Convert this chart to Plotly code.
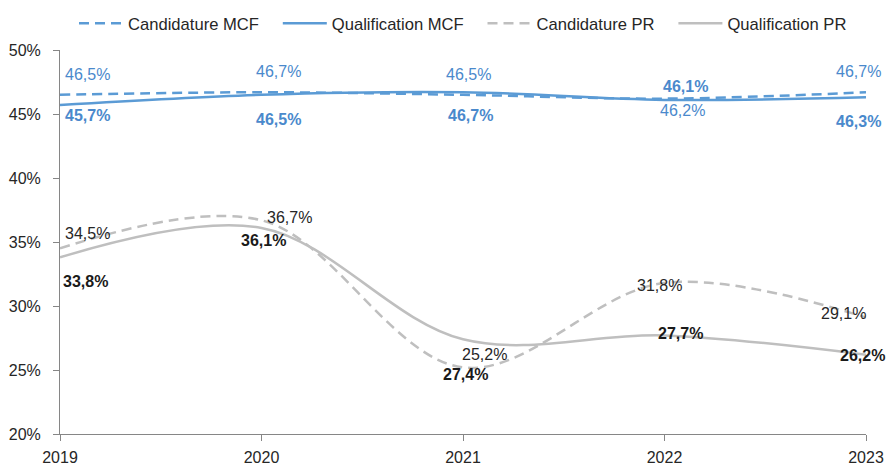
import plotly.graph_objects as go

years = [2019, 2020, 2021, 2022, 2023]
cand_mcf = [46.5, 46.7, 46.5, 46.2, 46.7]
qual_mcf = [45.7, 46.5, 46.7, 46.1, 46.3]
cand_pr = [34.5, 36.7, 25.2, 31.8, 29.1]
qual_pr = [33.8, 36.1, 27.4, 27.7, 26.2]
y_ticks = [20, 25, 30, 35, 40, 45, 50]

# label offsets in pixels (xshift, yshift)
off_cand_mcf = [(27, 20), (17, 21), (5, 20), (18, -12), (-8, 21)]
off_qual_mcf = [(27, -10), (17, -25), (7, -23), (21, 13), (-8, -24)]
off_cand_pr = [(27, 15), (28, 3), (21, 13), (-5, -3), (-23, 4)]
off_qual_pr = [(25, -24), (2, -13), (2, -35), (16, 2), (-4, -1)]

BLUE = "#5B9BD5"
BLUE_TXT = "#4A89CC"
GREY = "#BFBFBF"
FONT = "Liberation Sans"
PAD = "\u00a0\u00a0\u00a0"

fig = go.Figure()
series = [
    ("Candidature MCF" + PAD, cand_mcf, BLUE, "10px,6px"),
    ("Qualification MCF" + PAD, qual_mcf, BLUE, "solid"),
    ("Candidature PR" + PAD, cand_pr, GREY, "10px,6px"),
    ("Qualification PR", qual_pr, GREY, "solid"),
]
for name, vals, col, dash in series:
    fig.add_trace(go.Scatter(
        x=years, y=vals, name=name, mode="lines",
        line=dict(color=col, width=2.5, dash=dash, shape="spline", smoothing=1.0),
    ))

def fmt(v):
    return f"{v:.1f}".replace(".", ",") + "%"

label_sets = [
    (cand_mcf, off_cand_mcf, BLUE_TXT, False),
    (qual_mcf, off_qual_mcf, BLUE_TXT, True),
    (cand_pr, off_cand_pr, "#262626", False),
    (qual_pr, off_qual_pr, "#1a1a1a", True),
]
for vals, offs, col, bold in label_sets:
    for x, v, (dx, dy) in zip(years, vals, offs):
        txt = f"<b>{fmt(v)}</b>" if bold else fmt(v)
        fig.add_annotation(x=x, y=v, text=txt, showarrow=False,
                           xshift=dx, yshift=dy,
                           font=dict(family=FONT, size=16, color=col))

fig.update_layout(
    width=887, height=466,
    margin=dict(l=60, r=21, t=50, b=32, autoexpand=False),
    paper_bgcolor="white", plot_bgcolor="white",
    font=dict(family=FONT, size=16, color="#262626"),
    showlegend=True,
    legend=dict(orientation="h", x=0.5, xanchor="center", y=0.987, yanchor="top",
                yref="container", font=dict(family=FONT, size=16.6, color="#262626"),
                itemwidth=44, bgcolor="rgba(0,0,0,0)"),
)
fig.update_xaxes(range=[2019, 2023], tickvals=years, ticktext=[str(y) for y in years],
                 showgrid=False, zeroline=False, showline=True, linecolor="#868686",
                 linewidth=1, ticks="outside", ticklen=6, tickcolor="#868686",
                 automargin=False, ticklabelstandoff=3,
                 tickfont=dict(family=FONT, size=16, color="#262626"))
fig.update_yaxes(range=[20, 50], tickvals=y_ticks, ticktext=[f"{t}%" for t in y_ticks],
                 showgrid=False, zeroline=False, showline=True, linecolor="#868686",
                 linewidth=1, ticks="outside", ticklen=6, tickcolor="#868686",
                 automargin=False, ticklabelstandoff=9,
                 tickfont=dict(family=FONT, size=16, color="#262626"))

fig.write_html("out.html", config={"displayModeBar": False},
               post_script="document.body.style.margin='0';")
